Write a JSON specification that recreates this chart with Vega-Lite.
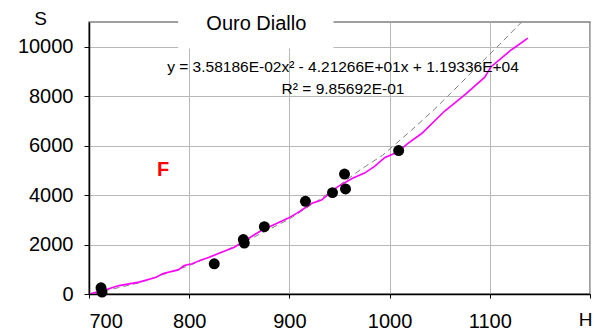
{
  "$schema": "https://vega.github.io/schema/vega-lite/v6.json",
  "width": 501,
  "height": 272,
  "autosize": "none",
  "padding": {"left": 89, "top": 22, "right": 7, "bottom": 42},
  "background": "white",
  "config": {
    "font": "Liberation Sans",
    "view": {"stroke": "#808080", "strokeWidth": 1.5},
    "axis": {
      "domainColor": "black",
      "domainWidth": 1.5,
      "tickColor": "black",
      "tickWidth": 1,
      "gridColor": "#b8b8b8",
      "gridWidth": 1,
      "labelFont": "Liberation Sans",
      "labelFontSize": 20,
      "labelColor": "black",
      "titleFont": "Liberation Sans",
      "titleFontSize": 19,
      "titleFontWeight": "normal",
      "titleColor": "black"
    }
  },
  "datasets": {
    "points": [
      {"H": 712, "S": 250},
      {"H": 713, "S": 80},
      {"H": 825, "S": 1220},
      {"H": 854, "S": 2200},
      {"H": 855, "S": 2060},
      {"H": 875, "S": 2720},
      {"H": 916, "S": 3750},
      {"H": 943, "S": 4100},
      {"H": 955, "S": 4850},
      {"H": 956, "S": 4250},
      {"H": 1009, "S": 5800}
    ],
    "curve": [
      {"H": 702, "S": 20}, {"H": 715, "S": 150}, {"H": 730, "S": 340}, {"H": 750, "S": 480},
      {"H": 767, "S": 675}, {"H": 774, "S": 830}, {"H": 789, "S": 975}, {"H": 795, "S": 1150},
      {"H": 803, "S": 1220}, {"H": 812, "S": 1380}, {"H": 820, "S": 1490}, {"H": 845, "S": 1890},
      {"H": 872, "S": 2570}, {"H": 898, "S": 3050}, {"H": 908, "S": 3280}, {"H": 922, "S": 3660},
      {"H": 932, "S": 3800}, {"H": 948, "S": 4330}, {"H": 963, "S": 4680}, {"H": 975, "S": 4890},
      {"H": 985, "S": 5160}, {"H": 995, "S": 5510}, {"H": 1008, "S": 5740}, {"H": 1018, "S": 6080},
      {"H": 1032, "S": 6490}, {"H": 1055, "S": 7400}, {"H": 1075, "S": 8050}, {"H": 1095, "S": 8770},
      {"H": 1101, "S": 9180}, {"H": 1111, "S": 9520}, {"H": 1121, "S": 9860}, {"H": 1126, "S": 10000},
      {"H": 1138, "S": 10350}
    ],
    "dashed": [
      {"H": 705, "S": 30}, {"H": 750, "S": 450}, {"H": 800, "S": 1150}, {"H": 850, "S": 2000},
      {"H": 900, "S": 3030}, {"H": 930, "S": 3820}, {"H": 950, "S": 4400}, {"H": 971, "S": 5030},
      {"H": 993, "S": 5610}, {"H": 1022, "S": 6630}, {"H": 1045, "S": 7480}, {"H": 1070, "S": 8480},
      {"H": 1090, "S": 9300}, {"H": 1110, "S": 10100}, {"H": 1133, "S": 11050}
    ],
    "box": [{"x1": 789, "x2": 944, "y1": 9930, "y2": 11300}],
    "titleText": [{"H": 867, "S": 10905, "t": "Ouro Diallo"}],
    "eq": [
      {"H": 953.5, "S": 9200, "t": "y = 3.58186E-02x² - 4.21266E+01x + 1.19336E+04"},
      {"H": 953.5, "S": 8310, "t": "R² = 9.85692E-01"}
    ],
    "flabel": [{"H": 774, "S": 5020, "t": "F"}]
  },
  "encoding": {
    "x": {"field": "H", "type": "quantitative"},
    "y": {"field": "S", "type": "quantitative"}
  },
  "layer": [
    {
      "data": {"name": "dashed"},
      "mark": {"type": "line", "color": "#808080", "strokeWidth": 1, "strokeDash": [6, 4], "clip": true},
      "encoding": {
        "x": {
          "field": "H", "type": "quantitative",
          "scale": {"domain": [700, 1200], "nice": false, "zero": false},
          "axis": {
            "values": [700, 800, 900, 1000, 1100, 1200],
            "labelExpr": "datum.value == 1200 ? '' : datum.label",
            "format": "d",
            "tickSize": 4,
            "labelPadding": 13,
            "title": "H",
            "titleFontSize": 19,
            "titleX": 496,
            "titleY": 31,
            "titleAlign": "center",
            "titleBaseline": "alphabetic"
          }
        },
        "y": {
          "field": "S", "type": "quantitative",
          "scale": {"domain": [0, 11000], "nice": false},
          "axis": {
            "values": [0, 2000, 4000, 6000, 8000, 10000],
            "format": "d",
            "tickSize": 5,
            "labelPadding": 11,
            "title": "S",
            "titleFontSize": 19,
            "titleAngle": 0,
            "titleX": -49,
            "titleY": -4,
            "titleAlign": "center",
            "titleBaseline": "middle"
          }
        }
      }
    },
    {
      "data": {"name": "curve"},
      "mark": {"type": "line", "color": "#ff00ff", "strokeWidth": 1.6, "clip": true}
    },
    {
      "data": {"name": "points"},
      "mark": {"type": "circle", "color": "black", "size": 120, "opacity": 1}
    },
    {
      "data": {"name": "box"},
      "mark": {"type": "rect", "color": "white", "clip": false},
      "encoding": {
        "x": {"field": "x1", "type": "quantitative"},
        "x2": {"field": "x2"},
        "y": {"field": "y1", "type": "quantitative"},
        "y2": {"field": "y2"}
      }
    },
    {
      "data": {"name": "titleText"},
      "mark": {"type": "text", "font": "Liberation Sans", "fontSize": 20, "color": "black", "align": "center", "baseline": "middle", "clip": false},
      "encoding": {"text": {"field": "t"}}
    },
    {
      "data": {"name": "eq"},
      "mark": {"type": "text", "font": "Liberation Sans", "fontSize": 15.5, "color": "black", "align": "center", "baseline": "middle"},
      "encoding": {"text": {"field": "t"}}
    },
    {
      "data": {"name": "flabel"},
      "mark": {"type": "text", "font": "Liberation Sans", "fontSize": 20, "fontWeight": "bold", "color": "red", "align": "center", "baseline": "middle"},
      "encoding": {"text": {"field": "t"}}
    }
  ]
}
